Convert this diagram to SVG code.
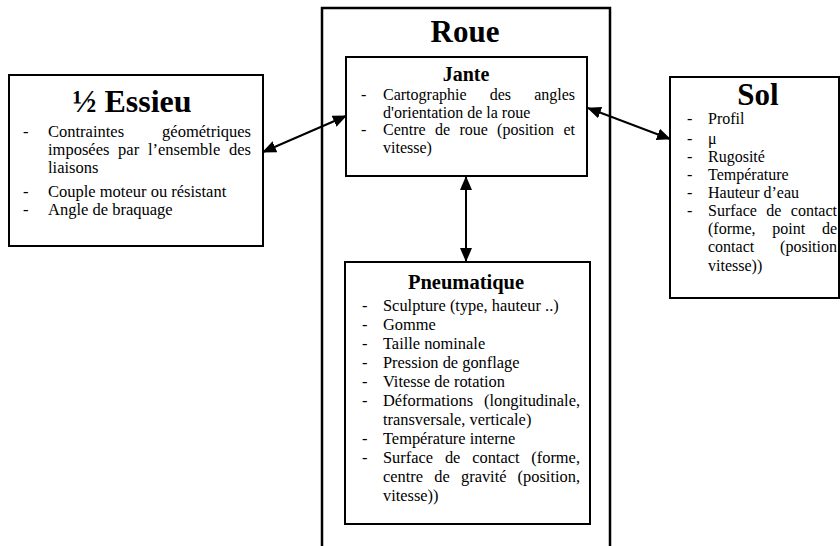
<svg xmlns="http://www.w3.org/2000/svg" width="840" height="546" viewBox="0 0 840 546">
<style>
text{font-family:"Liberation Serif","Times New Roman",serif;fill:#000}
.t{font-size:31px;font-weight:bold;text-anchor:middle}
.t2{font-size:32px;font-weight:bold;text-anchor:middle}
.s{font-size:20px;font-weight:bold;text-anchor:middle}
.s2{font-size:20.5px;font-weight:bold;text-anchor:middle}
.b{font-size:16px}
.a{font-size:16.5px}
.p{font-size:16.4px}
.e{text-anchor:end}
.box{fill:#fff;stroke:#000;stroke-width:2}
.con{stroke:#000;stroke-width:2;fill:none;marker-start:url(#ah);marker-end:url(#ah)}
</style>
<defs>
<marker id="ah" viewBox="0 0 14 12" refX="13" refY="6" markerWidth="14" markerHeight="12" markerUnits="userSpaceOnUse" orient="auto-start-reverse">
<path d="M0,0 L14,6 L0,12 Z" fill="#000"/>
</marker>
</defs>
<rect width="840" height="546" fill="#fff"/>

<g id="roue">
<path d="M322,560 V8 H610 V560" fill="#fff" stroke="#000" stroke-width="2.5"/>
<text class="t" x="465" y="42">Roue</text>
</g>

<g id="jante">
<rect class="box" x="346" y="57" width="241" height="119"/>
<text class="s" x="466" y="81">Jante</text>
<text class="b" x="361" y="100">-</text>
<text class="b" x="383" y="100">Cartographie</text>
<text class="b" x="489.7" y="100">des</text>
<text class="b e" x="575" y="100">angles</text>
<text class="b" x="383" y="117.7">d'orientation de la roue</text>
<text class="b" x="361" y="135.4">-</text>
<text class="b" x="383" y="135.4">Centre</text>
<text class="b" x="435" y="135.4">de</text>
<text class="b" x="459.4" y="135.4">roue</text>
<text class="b" x="497.1" y="135.4">(position</text>
<text class="b e" x="575" y="135.4">et</text>
<text class="b" x="383" y="153">vitesse)</text>
</g>

<g id="pneumatique">
<rect class="box" x="345" y="262" width="245" height="262"/>
<text class="s2" x="466" y="289">Pneumatique</text>
<text class="p" x="362" y="311">-</text>
<text class="p" x="383" y="311">Sculpture (type, hauteur ..)</text>
<text class="p" x="362" y="330">-</text>
<text class="p" x="383" y="330">Gomme</text>
<text class="p" x="362" y="349">-</text>
<text class="p" x="383" y="349">Taille nominale</text>
<text class="p" x="362" y="368">-</text>
<text class="p" x="383" y="368">Pression de gonflage</text>
<text class="p" x="362" y="387">-</text>
<text class="p" x="383" y="387">Vitesse de rotation</text>
<text class="p" x="362" y="406">-</text>
<text class="p" x="383" y="406">Déformations</text>
<text class="p e" x="580" y="406">(longitudinale,</text>
<text class="p" x="383" y="425">transversale, verticale)</text>
<text class="p" x="362" y="444">-</text>
<text class="p" x="383" y="444">Température interne</text>
<text class="p" x="362" y="463">-</text>
<text class="p" x="383" y="463">Surface</text>
<text class="p" x="444.9" y="463">de</text>
<text class="p" x="472.2" y="463">contact</text>
<text class="p e" x="580" y="463">(forme,</text>
<text class="p" x="383" y="482">centre</text>
<text class="p" x="434.3" y="482">de</text>
<text class="p" x="461" y="482">gravité</text>
<text class="p e" x="580" y="482">(position,</text>
<text class="p" x="383" y="501">vitesse))</text>
</g>

<g id="essieu">
<rect class="box" x="9" y="75" width="254" height="171"/>
<text class="t2" x="132" y="112">½ Essieu</text>
<text class="a" x="23" y="137">-</text>
<text class="a" x="48" y="137">Contraintes</text>
<text class="a e" x="251" y="137">géométriques</text>
<text class="a" x="48" y="155">imposées</text>
<text class="a" x="118.1" y="155">par</text>
<text class="a" x="147.9" y="155">l’ensemble</text>
<text class="a e" x="251" y="155">des</text>
<text class="a" x="48" y="172.5">liaisons</text>
<text class="a" x="23" y="197">-</text>
<text class="a" x="48" y="197">Couple moteur ou résistant</text>
<text class="a" x="23" y="215">-</text>
<text class="a" x="48" y="215">Angle de braquage</text>
</g>

<g id="sol">
<rect class="box" x="670" y="77" width="169" height="221"/>
<text class="t" x="758" y="105">Sol</text>
<text class="b" x="687" y="124">-</text>
<text class="b" x="708" y="124">Profil</text>
<text class="b" x="687" y="144">-</text>
<text class="b" x="708" y="144">μ</text>
<text class="b" x="687" y="162">-</text>
<text class="b" x="708" y="162">Rugosité</text>
<text class="b" x="687" y="180">-</text>
<text class="b" x="708" y="180">Température</text>
<text class="b" x="687" y="198">-</text>
<text class="b" x="708" y="198">Hauteur d’eau</text>
<text class="b" x="687" y="216">-</text>
<text class="b" x="708" y="216">Surface</text>
<text class="b" x="766.3" y="216">de</text>
<text class="b e" x="837" y="216">contact</text>
<text class="b" x="708" y="234">(forme,</text>
<text class="b" x="772.3" y="234">point</text>
<text class="b e" x="837" y="234">de</text>
<text class="b" x="708" y="252">contact</text>
<text class="b e" x="837" y="252">(position</text>
<text class="b" x="708" y="271">vitesse))</text>
</g>

<g id="connectors">
<line class="con" x1="263" y1="152" x2="346" y2="116"/>
<line class="con" x1="588" y1="108" x2="670" y2="139"/>
<line class="con" x1="466" y1="177" x2="466" y2="261"/>
</g>
</svg>
